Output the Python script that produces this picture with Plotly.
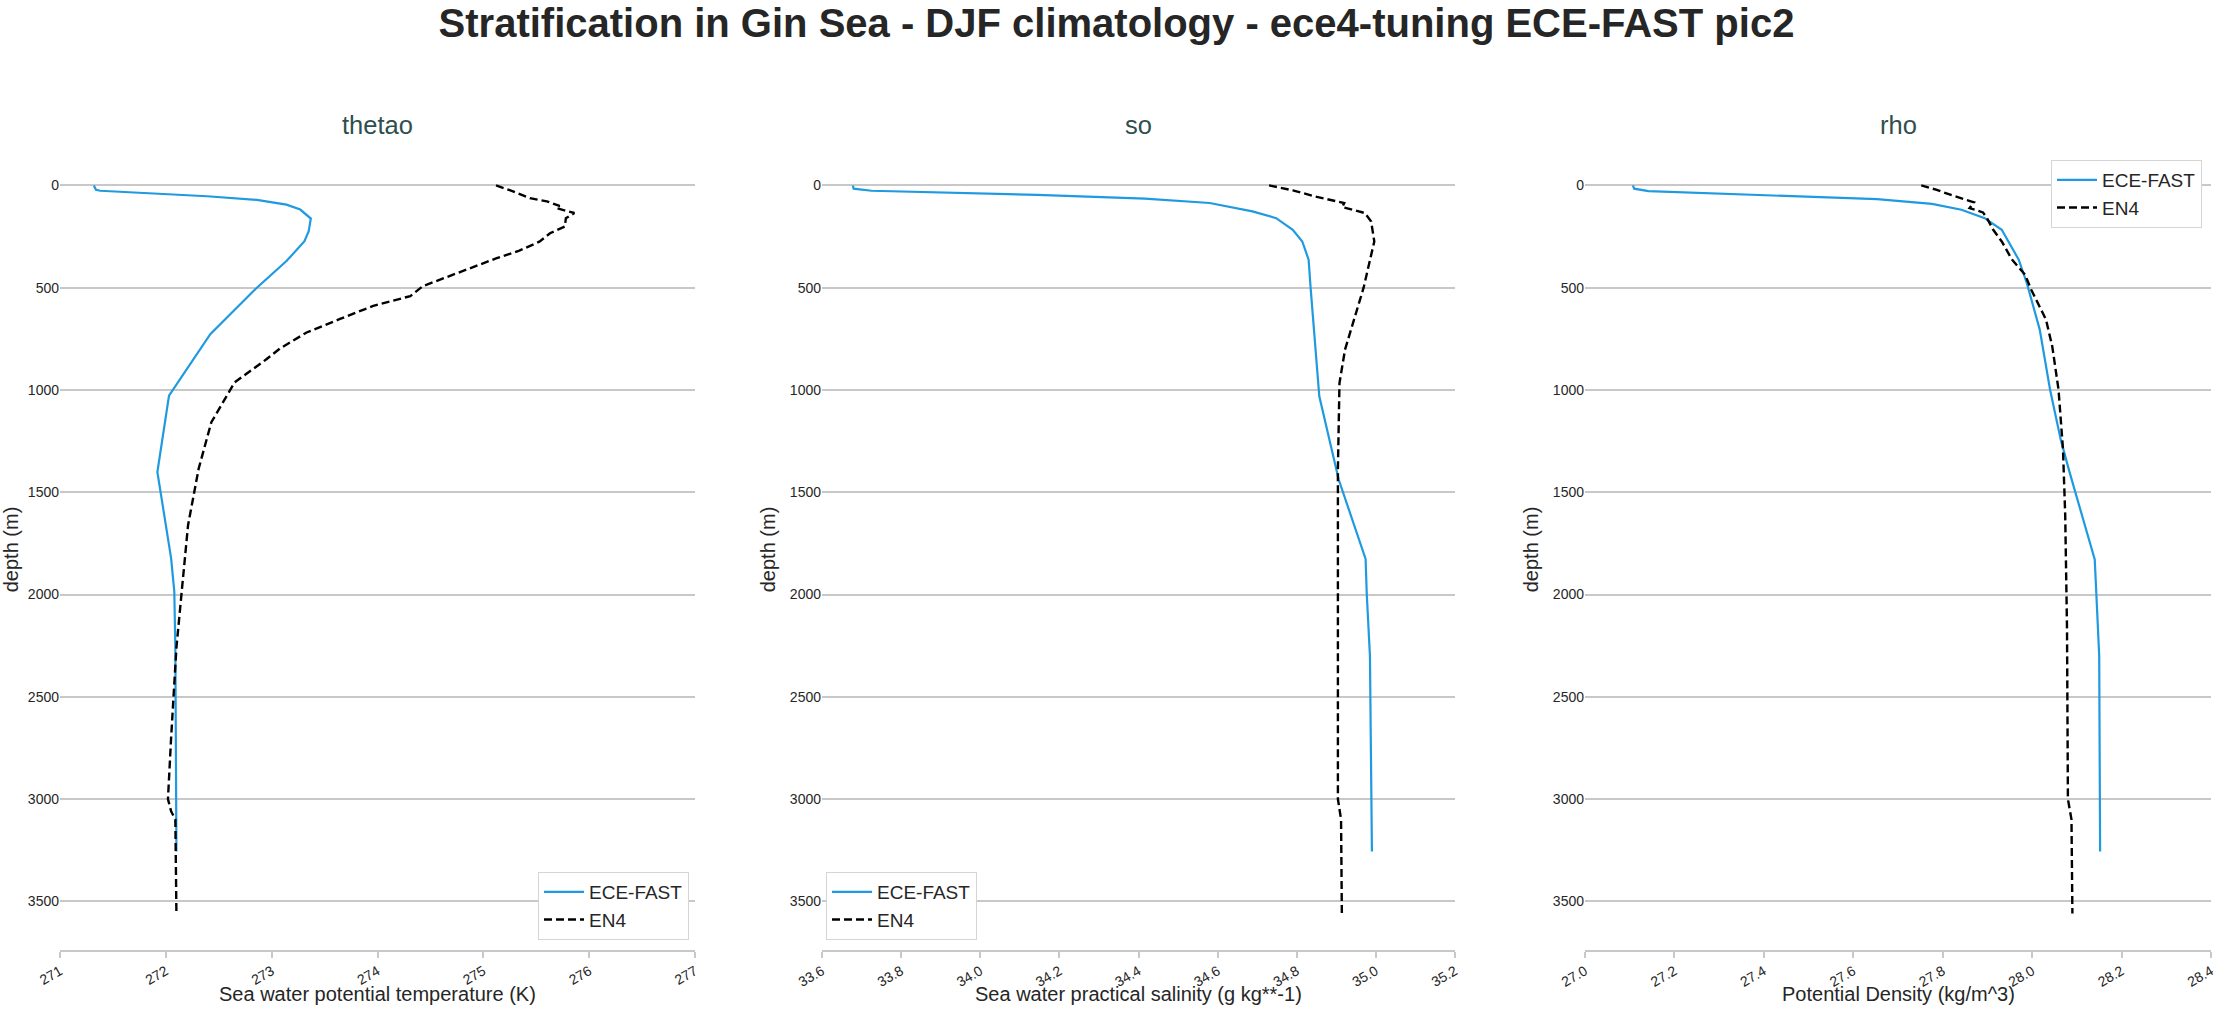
import plotly.graph_objects as go

# ---------------- data ----------------
# thetao (K)
thetao_model_depth = [0, 21, 26, 53, 71, 94, 118, 143, 162, 224, 273, 370, 500, 727, 848,
                      1028, 1401, 1823, 1986, 2260, 3256]
thetao_model = [271.32, 271.34, 271.38, 272.39, 272.86, 273.14, 273.27, 273.33, 273.37, 273.35,
                273.31, 273.14, 272.86, 272.42, 272.26, 272.03, 271.92, 272.05, 272.08, 272.09, 272.10]
thetao_obs_depth = [0, 29, 62, 78, 100, 111, 135, 160, 201, 234, 275, 319, 357, 423, 492, 541,
                    589, 654, 719, 797, 850, 963, 1158, 1385, 1531, 1661, 1986, 2260, 2700, 3000,
                    3060, 3100, 3560]
thetao_obs = [275.12, 275.28, 275.44, 275.60, 275.72, 275.69, 275.86, 275.78, 275.77, 275.63,
              275.53, 275.34, 275.12, 274.78, 274.43, 274.31, 273.96, 273.64, 273.33, 273.08,
              272.95, 272.65, 272.43, 272.31, 272.26, 272.21, 272.15, 272.10, 272.05, 272.02,
              272.05, 272.09, 272.10]

# so (g kg**-1)
so_model_depth = [0, 16, 26, 34, 46, 65, 86, 127, 160, 217, 274, 363, 500, 1031, 1161, 1438,
                  1826, 2000, 2300, 3256]
so_model = [33.678, 33.68, 33.725, 33.87, 34.144, 34.416, 34.58, 34.688, 34.748, 34.79, 34.814,
            34.83, 34.835, 34.857, 34.873, 34.906, 34.974, 34.977, 34.985, 34.99]
so_obs_depth = [0, 24, 54, 78, 86, 106, 135, 176, 274, 500, 803, 966, 1389, 2171, 3000, 3100, 3560]
so_obs = [34.73, 34.79, 34.846, 34.906, 34.92, 34.915, 34.972, 34.988, 34.996, 34.969, 34.922,
          34.908, 34.904, 34.904, 34.904, 34.912, 34.914]

# rho (kg/m^3, minus 1000)
rho_model_depth = [0, 16, 28, 41, 54, 67, 90, 119, 160, 217, 363, 477, 705, 998, 1243, 1397,
                   1829, 2300, 3256]
rho_model = [27.107, 27.11, 27.142, 27.32, 27.51, 27.653, 27.776, 27.842, 27.894, 27.932, 27.97,
             27.988, 28.017, 28.04, 28.064, 28.083, 28.14, 28.15, 28.152]
rho_obs_depth = [0, 21, 50, 83, 111, 132, 160, 217, 274, 363, 436, 510, 656, 787, 998, 1291,
                 1617, 2171, 3000, 3100, 3560]
rho_obs = [27.752, 27.785, 27.823, 27.87, 27.86, 27.89, 27.899, 27.913, 27.932, 27.955, 27.984,
           27.998, 28.031, 28.045, 28.059, 28.069, 28.074, 28.078, 28.08, 28.088, 28.09]

panel_titles = ["thetao", "so", "rho"]
x_titles = ["Sea water potential temperature (K)",
            "Sea water practical salinity (g kg**-1)",
            "Potential Density (kg/m^3)"]
x_ranges = [[271, 277], [33.6, 35.2], [27.0, 28.4]]
x_tickvals = [[271, 272, 273, 274, 275, 276, 277],
              [33.6, 33.8, 34.0, 34.2, 34.4, 34.6, 34.8, 35.0, 35.2],
              [27.0, 27.2, 27.4, 27.6, 27.8, 28.0, 28.2, 28.4]]
x_ticktext = [["271", "272", "273", "274", "275", "276", "277"],
              ["33.6", "33.8", "34.0", "34.2", "34.4", "34.6", "34.8", "35.0", "35.2"],
              ["27.0", "27.2", "27.4", "27.6", "27.8", "28.0", "28.2", "28.4"]]
depth_ticks = [0, 500, 1000, 1500, 2000, 2500, 3000, 3500]
series_names = ["ECE-FAST", "EN4"]
title_text = "Stratification in Gin Sea - DJF climatology - ece4-tuning ECE-FAST pic2"

# ---------------- layout constants ----------------
W, H = 2233, 1010
MT, MB = 149, 60
plot_h = H - MT - MB
domains_px = [(60, 695), (822, 1455), (1585, 2211)]
FONT = "Liberation Sans, Arial, sans-serif"
BLUE = "#1f9ae0"
GRID = "#c8c8c8"
TXT = "#262626"


def py(real_y):
    """convert a pixel row of the page to paper y"""
    return (H - MB - real_y) / plot_h


fig = go.Figure()

models = [(thetao_model_depth, thetao_model), (so_model_depth, so_model), (rho_model_depth, rho_model)]
obs = [(thetao_obs_depth, thetao_obs), (so_obs_depth, so_obs), (rho_obs_depth, rho_obs)]
legend_ids = ["legend", "legend2", "legend3"]

for i in range(3):
    xa = "x" if i == 0 else f"x{i+1}"
    ya = "y" if i == 0 else f"y{i+1}"
    fig.add_trace(go.Scatter(x=models[i][1], y=models[i][0], mode="lines", name=series_names[0],
                             line=dict(color=BLUE, width=2.2), xaxis=xa, yaxis=ya,
                             legend=legend_ids[i]))
    fig.add_trace(go.Scatter(x=obs[i][1], y=obs[i][0], mode="lines", name=series_names[1],
                             line=dict(color="black", width=2.4, dash="8px,4px"), xaxis=xa, yaxis=ya,
                             legend=legend_ids[i]))

layout = dict(
    width=W, height=H,
    margin=dict(l=0, r=0, t=MT, b=MB, autoexpand=False),
    paper_bgcolor="white", plot_bgcolor="white",
    font=dict(family=FONT, color=TXT, size=14),
    title=dict(text=f"<b>{title_text}</b>", x=0.5, xanchor="center", y=1 - 23 / H, yanchor="middle",
               font=dict(size=40, family=FONT, color=TXT)),
)

for i in range(3):
    sfx = "" if i == 0 else str(i + 1)
    x0, x1 = domains_px[i]
    layout[f"xaxis{sfx}"] = dict(
        domain=[x0 / W, x1 / W], anchor=f"y{sfx}", range=x_ranges[i], automargin=False,
        tickmode="array", tickvals=x_tickvals[i], ticktext=x_ticktext[i], tickangle=-30,
        showgrid=False, zeroline=False, showline=True, linecolor=GRID, linewidth=1.5,
        ticks="outside", ticklen=6, tickwidth=1.5, tickcolor=GRID,
        tickfont=dict(size=14, color=TXT),
    )
    layout[f"yaxis{sfx}"] = dict(
        domain=[0, 1], anchor=f"x{sfx}", range=[3738, -178], automargin=False,
        tickmode="array", tickvals=depth_ticks,
        showgrid=True, gridcolor=GRID, gridwidth=1.5, zeroline=False, showline=False,
        ticks="", tickfont=dict(size=14, color=TXT),
        title=dict(text="depth (m)", font=dict(size=20, color=TXT), standoff=8),
    )

legend_common = dict(bgcolor="white", bordercolor="#d5d5d5", borderwidth=1,
                     font=dict(size=19, color=TXT), itemwidth=40, tracegroupgap=2)
layout["legend"] = dict(legend_common, x=689 / W, xanchor="right", y=py(940), yanchor="bottom")
layout["legend2"] = dict(legend_common, x=826 / W, xanchor="left", y=py(940), yanchor="bottom")
layout["legend3"] = dict(legend_common, x=2202 / W, xanchor="right", y=py(160), yanchor="top")

fig.update_layout(**layout)

for i in range(3):
    x0, x1 = domains_px[i]
    fig.add_annotation(text=panel_titles[i], xref="paper", yref="paper",
                       x=(x0 + x1) / 2 / W, y=py(125), xanchor="center", yanchor="middle",
                       showarrow=False, font=dict(size=25.5, color="#2f4f4f", family=FONT))
    fig.add_annotation(text=x_titles[i], xref="paper", yref="paper",
                       x=(x0 + x1) / 2 / W, y=py(994), xanchor="center", yanchor="middle",
                       showarrow=False, font=dict(size=20, color=TXT, family=FONT))

fig.write_html("out.html", config={"displayModeBar": False},
               post_script="document.body.style.margin='0px';")
